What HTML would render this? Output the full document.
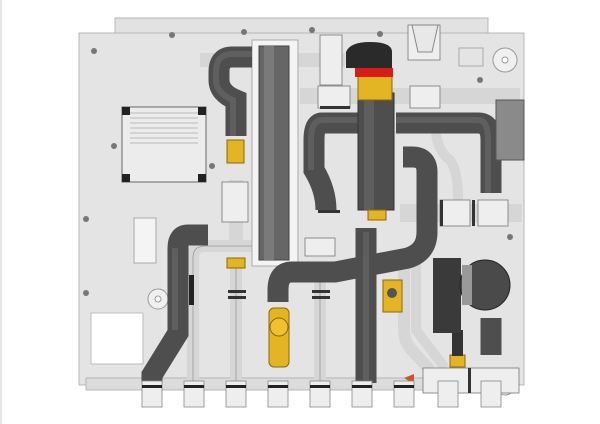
<!DOCTYPE html>
<html><head><meta charset="utf-8"><style>html,body{margin:0;padding:0;background:#fff}svg{display:block}</style></head>
<body>
<svg width="600" height="424" viewBox="0 0 600 424" xmlns="http://www.w3.org/2000/svg">
<rect x="0" y="0" width="2" height="424" fill="#e6e6e6"/>
<!-- backplate -->
<rect x="115" y="18" width="373" height="16" fill="#e2e2e2" stroke="#aaa" stroke-width="0.8"/>
<rect x="79" y="33" width="445" height="352" fill="#e4e4e4" stroke="#aaa" stroke-width="0.8"/>
<rect x="86" y="378" width="432" height="12" fill="#dcdcdc" stroke="#aaa" stroke-width="0.8"/>
<!-- holes -->
<g fill="#f0f0f0" stroke="#999" stroke-width="1">
<circle cx="505" cy="60" r="12"/><circle cx="505" cy="60" r="3" fill="#fff"/>
<circle cx="158" cy="299" r="10"/><circle cx="158" cy="299" r="3" fill="#fff"/>
<circle cx="505" cy="385" r="10"/>
</g>
<rect x="459" y="48" width="24" height="18" fill="none" stroke="#aaa"/>
<rect x="91" y="313" width="52" height="51" fill="#fff" stroke="#bbb"/>
<rect x="134" y="218" width="22" height="45" fill="#f4f4f4" stroke="#aaa"/>
<!-- heatsink -->
<rect x="122" y="107" width="84" height="75" fill="#ececec" stroke="#666"/>
<g stroke="#aaa" stroke-width="0.8"><line x1="130" y1="113" x2="198" y2="113"/><line x1="130" y1="118" x2="198" y2="118"/><line x1="130" y1="123" x2="198" y2="123"/><line x1="130" y1="128" x2="198" y2="128"/><line x1="130" y1="133" x2="198" y2="133"/><line x1="130" y1="138" x2="198" y2="138"/><line x1="130" y1="143" x2="198" y2="143"/></g>
<g fill="#222"><rect x="122" y="107" width="8" height="8"/><rect x="198" y="107" width="8" height="8"/><rect x="122" y="174" width="8" height="8"/><rect x="198" y="174" width="8" height="8"/></g>
<!-- bumps -->
<g fill="#777"><circle cx="94" cy="51" r="3"/><circle cx="172" cy="35" r="3"/><circle cx="244" cy="32" r="3"/><circle cx="312" cy="30" r="3"/><circle cx="380" cy="34" r="3"/><circle cx="114" cy="146" r="3"/><circle cx="212" cy="166" r="3"/><circle cx="86" cy="219" r="3"/><circle cx="86" cy="293" r="3"/><circle cx="480" cy="80" r="3"/><circle cx="510" cy="237" r="3"/></g>
<!-- light gray pipes -->
<g fill="none" stroke="#d6d6d6" stroke-linecap="butt">
<path d="M258 246 H205 Q193 246 193 258 V385" stroke-width="12"/>
<path d="M236 262 V385" stroke-width="12"/>
<path d="M320 262 V385" stroke-width="12"/>
<path d="M404 265 V330 Q404 340 410 348 L430 370" stroke-width="12"/>
<path d="M416 260 V330 L445 368" stroke-width="10"/>
<path d="M435 120 Q435 150 450 160 Q458 170 458 200" stroke-width="10"/>
<path d="M200 60 H300" stroke-width="14"/>
<path d="M290 60 H345" stroke-width="14"/>
<path d="M300 96 H520" stroke-width="16"/>
<path d="M400 213 H522" stroke-width="18"/>
<path d="M236 180 V245" stroke-width="14"/>
</g>
<g fill="none" stroke="#999" stroke-width="0.8">
<path d="M258 246 H205 Q193 246 193 258 V385"/>
<path d="M236 262 V385"/><path d="M320 262 V385"/>
</g>
<!-- fittings crosses -->
<g fill="#eee" stroke="#777" stroke-width="0.8">
<rect x="410" y="86" width="30" height="22"/><rect x="318" y="86" width="32" height="22"/>
<rect x="440" y="200" width="30" height="26"/><rect x="478" y="200" width="30" height="26"/>
<rect x="222" y="182" width="26" height="40"/><rect x="305" y="238" width="30" height="18"/>
<rect x="320" y="35" width="22" height="50"/>
<rect x="408" y="25" width="32" height="35"/>
<rect x="423" y="368" width="96" height="25"/>
</g>
<!-- heat exchanger -->
<rect x="252" y="40" width="46" height="226" fill="#f4f4f4" stroke="#aaa"/>
<rect x="259" y="46" width="30" height="214" fill="#666" stroke="#444"/>
<rect x="264" y="46" width="10" height="214" fill="#7a7a7a"/>
<!-- dark pipes -->
<g fill="none" stroke="#4e4e4e" stroke-width="21" stroke-linecap="butt">
<path d="M252 57 H232 Q219 57 219 72 V80 Q219 93 236 100 V136"/>
<path d="M358 123 H322 Q314 123 314 140 V170 Q326 190 326 210"/>
<path d="M396 123 H478 Q491 123 491 140 V193"/>
<path d="M403 157 H412 Q427 157 427 172 V232 Q427 252 408 258 L335 272 H292 Q278 272 278 290 V302"/>
<path d="M366 228 V383"/>
<path d="M208 235 H188 Q178 235 178 248 V333 L152 375 V383"/>
<path d="M491 318 V355"/>
</g>
<g fill="none" stroke="#666" stroke-width="6" stroke-linecap="butt" opacity="0.7">
<path d="M252 54 H232 Q216 54 216 72 V80 Q216 93 233 100 V136"/>
<path d="M358 120 H322 Q311 120 311 140 V170"/>
<path d="M396 120 H478 Q488 120 488 140 V193"/>
<path d="M366 232 V380"/><path d="M175 248 V330"/>
</g>
<!-- column -->
<rect x="358" y="93" width="36" height="117" fill="#4e4e4e" stroke="#333"/>
<rect x="364" y="93" width="10" height="117" fill="#5e5e5e"/>
<rect x="358" y="76" width="34" height="24" fill="#e3b423" stroke="#8a6a00"/>
<rect x="355" y="68" width="38" height="9" fill="#d81c1c"/>
<path d="M346 52 Q350 42 370 42 Q392 42 392 52 V68 H346 Z" fill="#2a2a2a"/>
<rect x="368" y="210" width="18" height="10" fill="#e3b423" stroke="#8a6a00"/>
<!-- valve head -->
<path d="M412 25 H438 L432 52 H418 Z" fill="#e8e8e8" stroke="#888"/>
<!-- yellows -->
<rect x="227" y="140" width="17" height="23" fill="#e3b423" stroke="#8a6a00"/>
<rect x="227" y="258" width="18" height="10" fill="#e3b423" stroke="#8a6a00"/>
<rect x="269" y="308" width="20" height="59" rx="5" fill="#e3b423" stroke="#8a6a00"/>
<circle cx="279" cy="327" r="9" fill="#f0c030" stroke="#8a6a00"/>
<rect x="383" y="280" width="19" height="32" fill="#e3b423" stroke="#8a6a00"/>
<circle cx="392" cy="293" r="5" fill="#555"/>
<rect x="450" y="355" width="15" height="12" fill="#e3b423" stroke="#8a6a00"/>
<rect x="452" y="330" width="11" height="26" fill="#333"/>
<!-- pump -->
<rect x="433" y="258" width="28" height="75" fill="#3a3a3a"/>
<circle cx="485" cy="285" r="25" fill="#4a4a4a" stroke="#222"/>
<rect x="462" y="265" width="10" height="40" fill="#999"/>
<rect x="496" y="100" width="28" height="60" fill="#8a8a8a" stroke="#555"/>
<!-- sensor -->
<rect x="189" y="275" width="5" height="30" fill="#222"/>
<!-- misc dark rings -->
<g fill="#333"><rect x="228" y="290" width="18" height="3"/><rect x="228" y="296" width="18" height="3"/><rect x="312" y="290" width="18" height="3"/><rect x="312" y="296" width="18" height="3"/><rect x="320" y="106" width="30" height="3"/><rect x="318" y="210" width="22" height="3"/><rect x="440" y="200" width="3" height="26"/><rect x="472" y="200" width="3" height="26"/><rect x="468" y="368" width="3" height="25"/></g>
<path d="M404 378 L414 374 L414 384 Z" fill="#d4502a"/>
<!-- bottom fittings -->
<g fill="#eee" stroke="#888" stroke-width="0.8">
<rect x="142" y="381" width="20" height="26"/><rect x="184" y="381" width="20" height="26"/><rect x="226" y="381" width="20" height="26"/><rect x="268" y="381" width="20" height="26"/><rect x="310" y="381" width="20" height="26"/><rect x="352" y="381" width="20" height="26"/><rect x="394" y="381" width="20" height="26"/><rect x="438" y="381" width="20" height="26"/><rect x="481" y="381" width="20" height="26"/>
</g>
<g fill="#222"><rect x="142" y="385" width="20" height="3"/><rect x="184" y="385" width="20" height="3"/><rect x="226" y="385" width="20" height="3"/><rect x="268" y="385" width="20" height="3"/><rect x="310" y="385" width="20" height="3"/><rect x="352" y="385" width="20" height="3"/><rect x="394" y="385" width="20" height="3"/></g>
</svg>
</body></html>
